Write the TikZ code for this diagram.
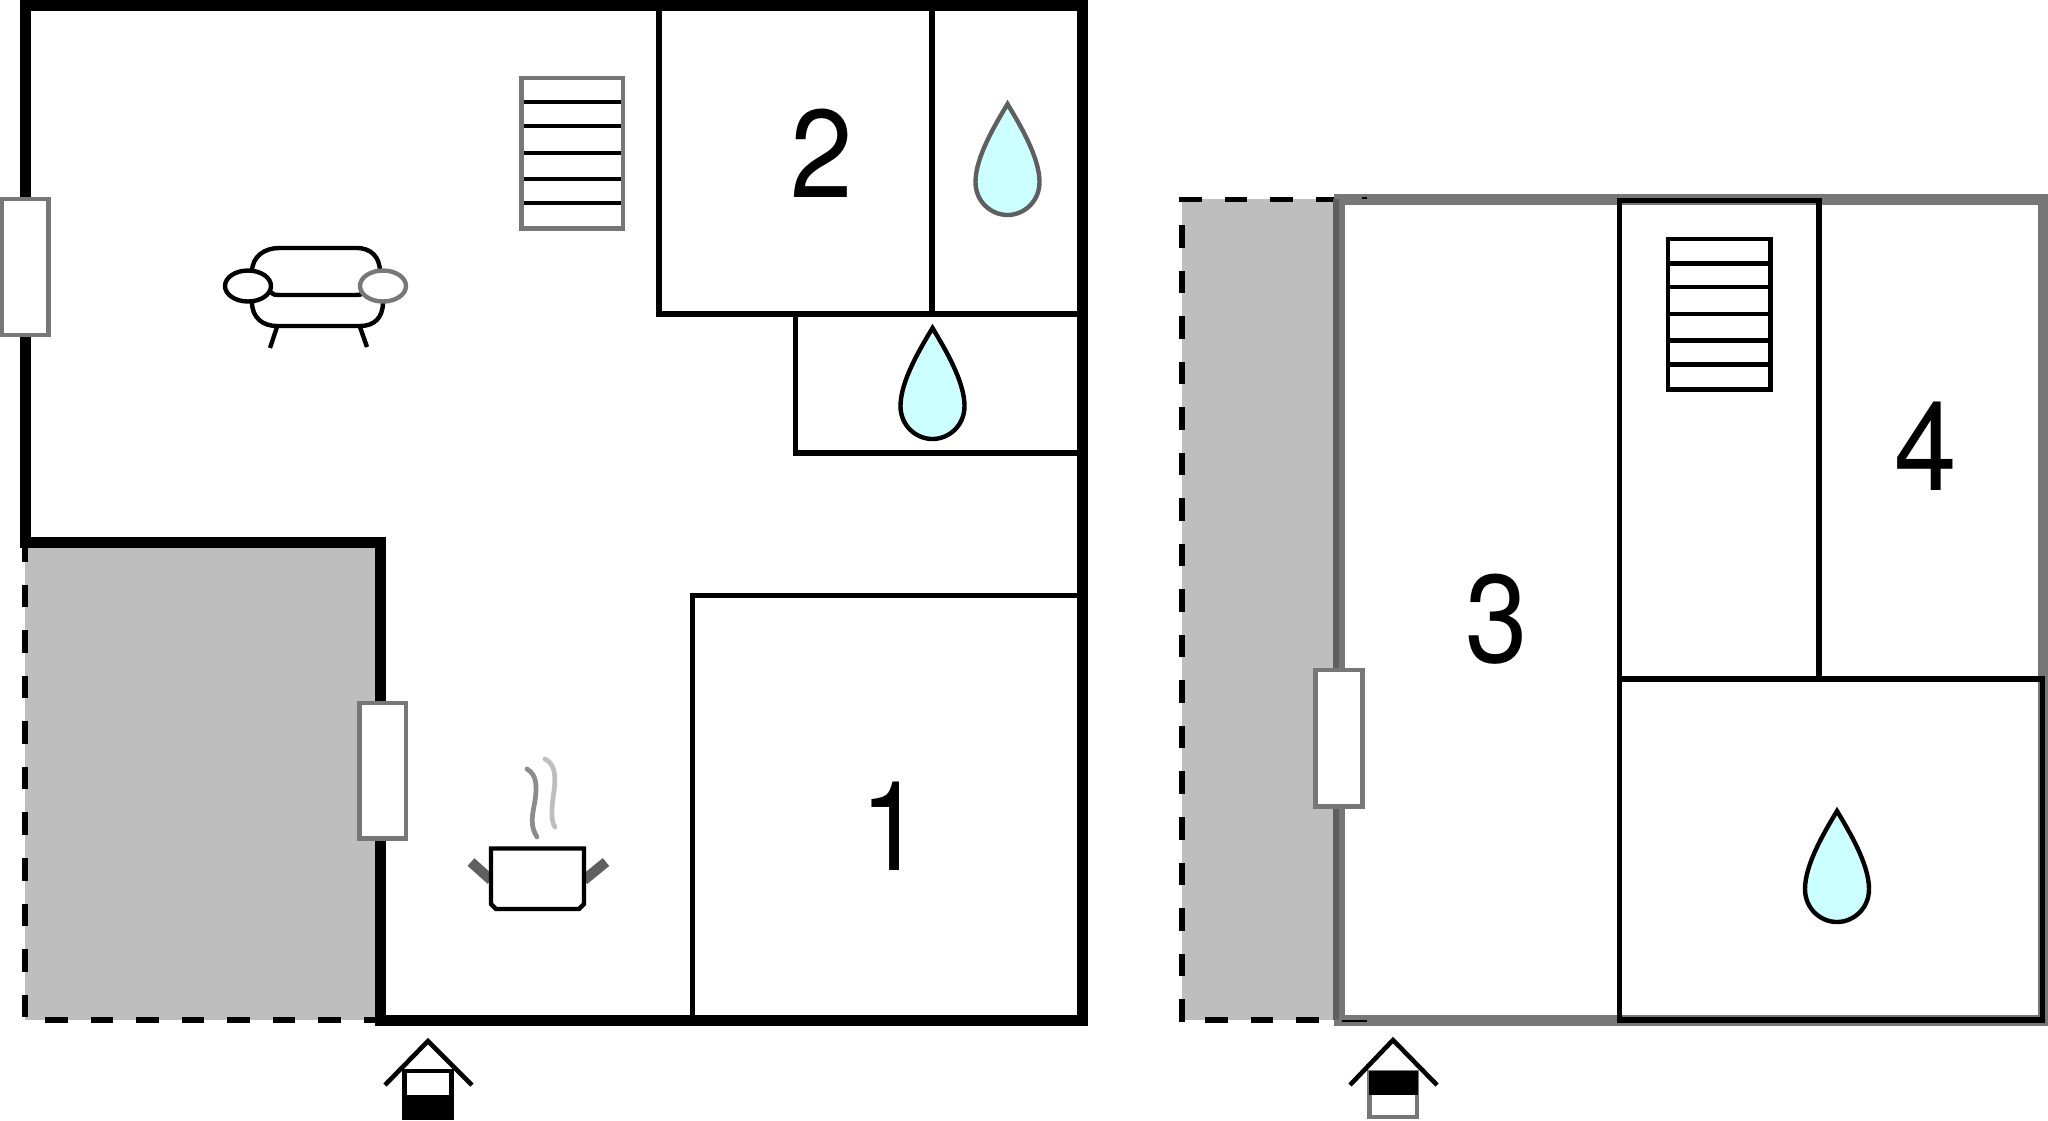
\documentclass[tikz,border=0pt]{standalone}
\usepackage{fontspec}
\setmainfont[FakeStretch=0.9]{TeX Gyre Heros}
\definecolor{wallgrey}{HTML}{777777}
\definecolor{sidegrey}{HTML}{5F5F5F}
\definecolor{areagrey}{HTML}{BEBEBE}
\definecolor{waterblue}{HTML}{CCFFFF}

\begin{document}
\begin{tikzpicture}[x=0.01cm, y=0.01cm]
        \tikzstyle{every node}+=[inner sep=0pt, font=\fontsize{35.5}{36}\selectfont]
        \tikzstyle{wall}=[line width=3.13pt]
        \tikzstyle{inner wall}=[line width=1.56pt, black]
        \tikzstyle{icon}=[line width=1.25pt]
        \tikzstyle{terrace}=[line width=1.6pt, black, dash pattern=on 6.4pt off 6.54pt]
        \tikzstyle{window}=[line width=1.25pt, draw=wallgrey, fill=white]
        \tikzstyle{roof}=[line width=1.3pt, black]
        \useasboundingbox (0,0) rectangle (2048,-1120);

        % ground floor
        \fill [areagrey] (25,-542) rectangle (380,-1020);
        \draw [terrace] (25.3,-1017) -- (25.3,-542);
        \draw [terrace] (45.4,-1020) -- (375,-1020);
        \draw [wall, black] (380,-1020.5) -- (380,-542) -- (25.5,-542) -- (25.5,-5.5)
                -- (1082,-5.5) -- (1082,-1020.5) -- cycle;

        \draw [inner wall] (659.2,-5) -- (659.2,-314) -- (1077,-314);
        \draw [inner wall] (932,-5) -- (932,-314);
        \draw [inner wall] (795.3,-314) -- (795.3,-453) -- (1077,-453);
        \draw [inner wall] (1077,-595.5) -- (692.5,-595.5) -- (692.5,-1016);

        \draw [window] (1.5,-199) rectangle (48.5,-335);
        \draw [window] (359.3,-703) rectangle (406,-838.5);

        % stairs
        \foreach \y in {102,125.7,152.7,179,202.7}
                \draw [icon, black] (521,-\y) -- (623,-\y);
        \draw [icon, wallgrey] (521.5,-78) rectangle (623,-228.5);

        % sofa
        \draw [icon, black] (252,-272) .. controls (252,-256) and (265,-248) .. (279,-248) -- (357,-248)
                .. controls (370,-248) and (380,-256) .. (380,-272);
        \draw [icon, black] (252,-302) .. controls (252,-318) and (263,-326) .. (277,-326) -- (360,-326)
                .. controls (374,-326) and (383,-318) .. (383,-302);
        \draw [icon, black] (271,-292) .. controls (273,-295) and (276,-295) .. (279,-295) -- (356,-295)
                .. controls (359,-295) and (361,-295) .. (363,-292);
        \draw [icon, black] (277,-327) -- (270,-348);
        \draw [icon, black] (360,-327) -- (367,-347);
        \draw [icon, black] (248,-286) ellipse (23 and 15.5);
        \draw [icon, wallgrey] (383,-286) ellipse (23 and 15.5);

        % pot
        \draw [line width=2.9pt, sidegrey] (471,-862) -- (491,-880);
        \draw [line width=2.9pt, sidegrey] (606,-862) -- (584,-880);
        \draw [icon, black, fill=white] (491,-848.5) -- (584,-848.5) -- (584,-904) -- (579,-909)
                -- (496,-909) -- (491,-904) -- cycle;
        \draw [line width=1.35pt, line cap=round, gray!90] (527,-769) .. controls (537,-775) and (537,-786) .. (535,-801)
                .. controls (532,-816) and (530,-826) .. (537,-837);
        \draw [line width=1.35pt, line cap=round, areagrey] (545,-759) .. controls (555,-764) and (556,-776) .. (554,-791)
                .. controls (552,-806) and (550,-819) .. (555,-827);

        % first floor
        \fill [areagrey] (1181.7,-199) rectangle (1339,-1020);
        \draw [terrace] (1179.3,-199.3) -- (1339,-199.3);
        \draw [terrace] (1181.7,-1021.5) -- (1181.7,-201);
        \draw [terrace] (1205,-1020) -- (1319,-1020);
        \draw [wall, wallgrey] (1339,-199) -- (2043,-199) -- (2043,-1020.5) -- (1339,-1020.5) -- cycle;
        \draw [inner wall, sidegrey] (1336,-199) -- (1336,-1020);
        \draw [line width=0.7pt, black] (1361.7,-198) -- (1367,-198);
        \draw [line width=0.6pt, black] (1341.7,-1021) -- (1367,-1021);

        \draw [inner wall] (1619.5,-679) -- (1619.5,-200.5) -- (1819,-200.5) -- (1819,-679);
        \draw [inner wall] (1619.5,-679) -- (2042.7,-679) -- (2042.7,-1020) -- (1619.5,-1020) -- cycle;

        \draw [window] (1315.3,-669.7) rectangle (1362.3,-806.3);

        % stairs
        \foreach \y in {263.3,287,314,340.3,364.3}
                \draw [icon, black] (1668,-\y) -- (1770.5,-\y);
        \draw [icon, black] (1668,-238.8) rectangle (1770.5,-389.5);

        % water drops
        \foreach \x/\y/\c in {1007.5/104/sidegrey, 932.5/328/black, 1837/811/black}
                \draw [shift={(\x,-\y)}, icon, draw=\c, fill=waterblue] (0,0)
                        .. controls (-12,-20) and (-32,-53) .. (-32,-78)
                        .. controls (-32,-98) and (-16,-111) .. (0,-111)
                        .. controls (16,-111) and (32,-98) .. (32,-78)
                        .. controls (32,-53) and (12,-20) .. (0,0) -- cycle;

        % entrances
        \fill [black] (402,-1069) rectangle (454,-1120);
        \fill [white] (406.7,-1073.3) rectangle (449.3,-1095);
        \draw [roof] (385,-1085) -- (428,-1041) -- (472,-1085);

        \draw [icon, wallgrey] (1369.5,-1072) rectangle (1417,-1117);
        \fill [black] (1368.5,-1071) rectangle (1418,-1095);
        \draw [roof] (1350,-1085) -- (1393,-1040) -- (1437,-1085);

        \node (room1) at (892,-826) {1};
        \node (room2) at (822,-153) {2};
        \node (room3) at (1496.5,-619) {3};
        \node (room4) at (1926,-446) {4};
\end{tikzpicture}
\end{document}
